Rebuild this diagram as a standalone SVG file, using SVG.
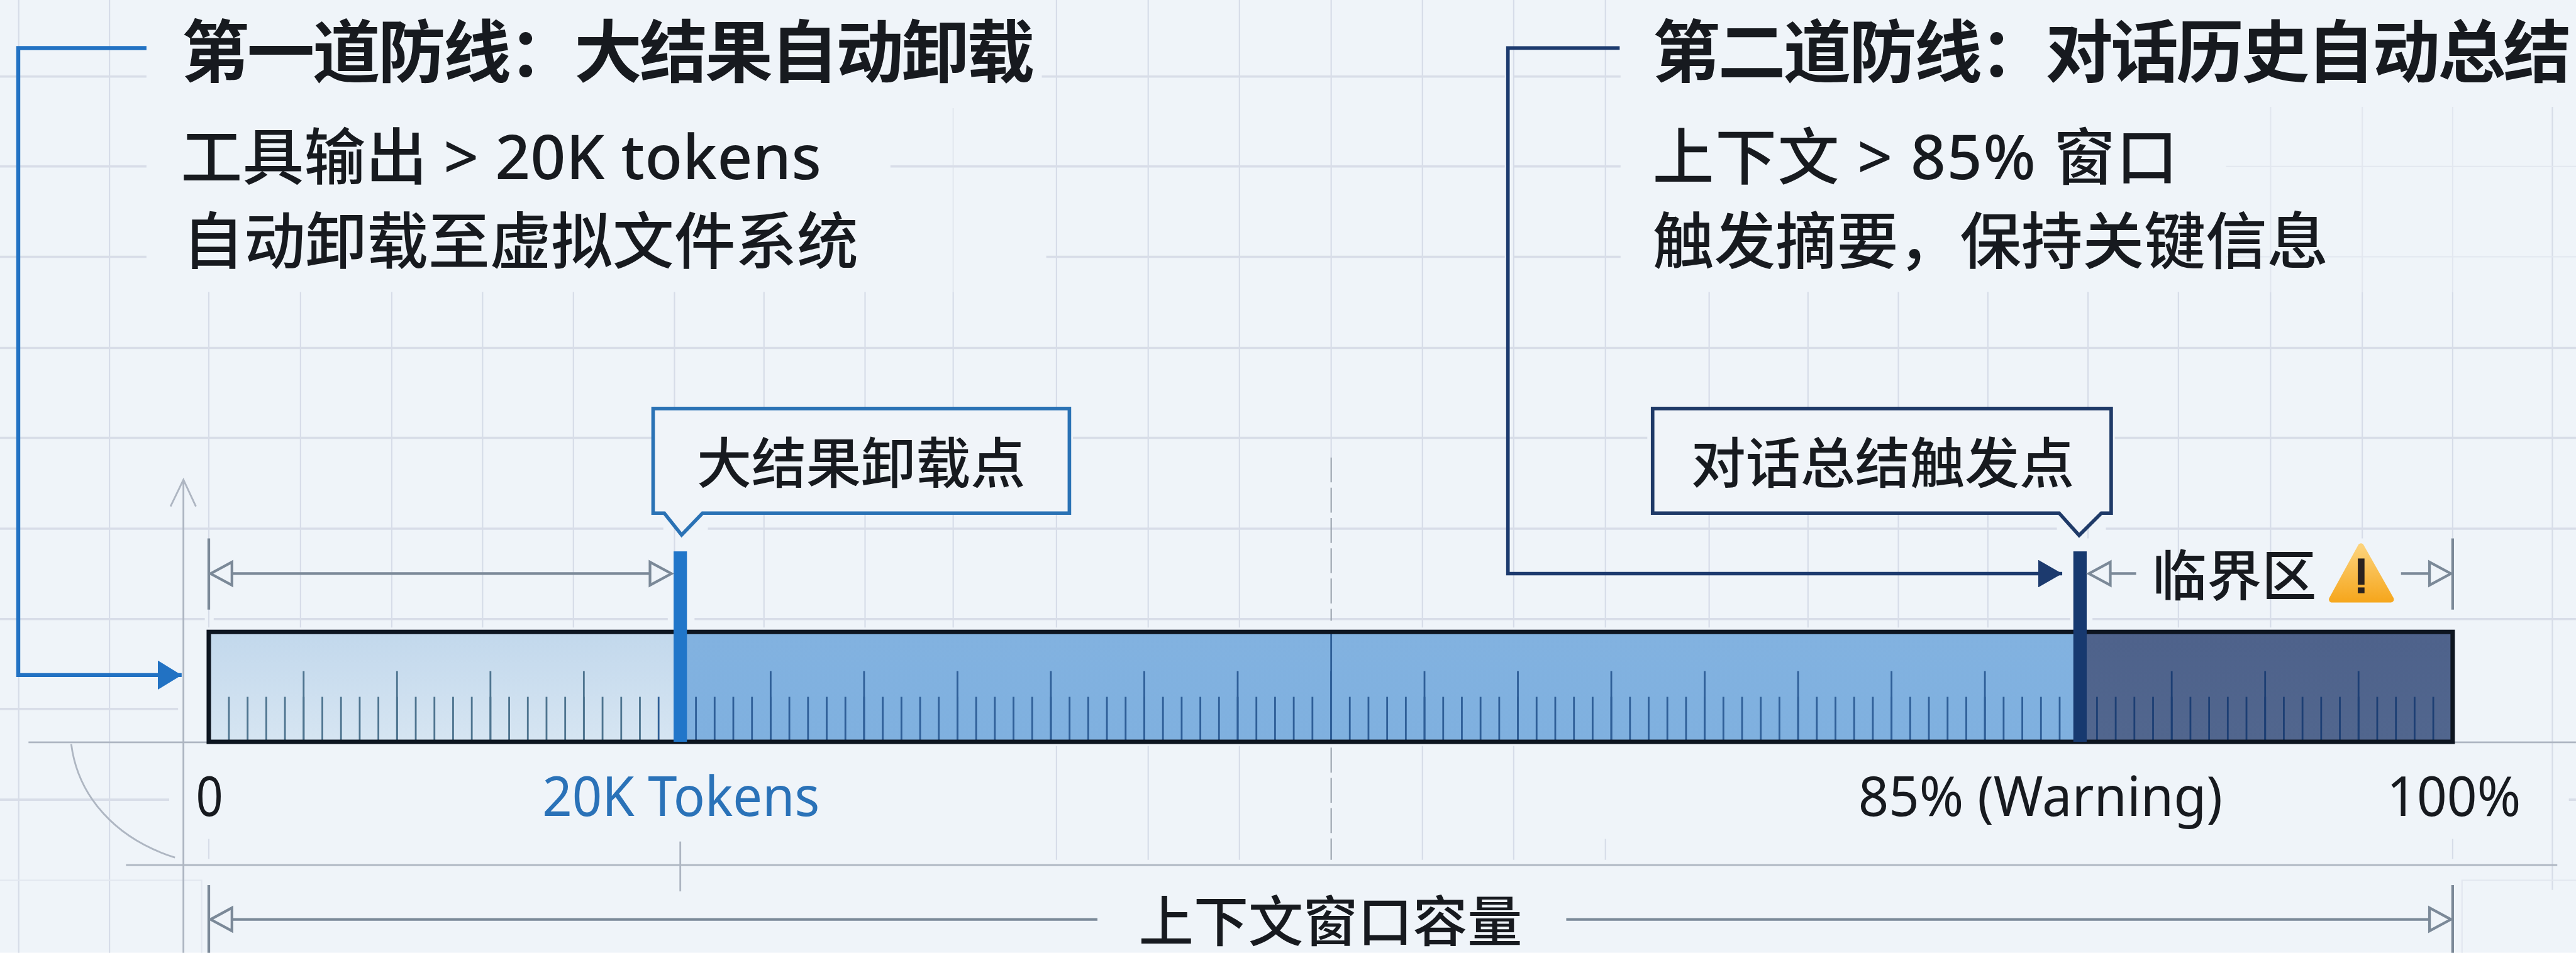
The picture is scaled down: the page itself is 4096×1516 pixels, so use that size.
<svg xmlns="http://www.w3.org/2000/svg" width="4096" height="1516" viewBox="0 0 4096 1516">
<style>
text{font-family:"Noto Sans","Noto Sans CJK SC",sans-serif;fill:#171a1f}
.h{font-size:152px;font-weight:700;letter-spacing:-5px}
.b{font-size:138px;font-weight:500}
.c{font-size:123px;font-weight:500}
.n{font-size:125px}
.grid{stroke:#d6dce8;stroke-width:3;fill:none}
.gridh{stroke:#d8dde8;stroke-width:5;fill:none}
.faint{stroke:#e2e7ef;stroke-width:3;fill:none}
.axis{stroke:#aeb6c2;stroke-width:4;fill:none}
.dim{stroke:#7b8998;stroke-width:6;fill:none}
.dash{stroke:#9aa3ae;stroke-width:3;stroke-dasharray:56 12;fill:none}
</style>
<defs>
<linearGradient id="fillA" x1="0" y1="0" x2="0" y2="1"><stop offset="0" stop-color="#c2d8ec"/><stop offset="1" stop-color="#d6e5f2"/></linearGradient>
<linearGradient id="fillB" x1="0" y1="0" x2="0" y2="1"><stop offset="0" stop-color="#82b2e0"/><stop offset="1" stop-color="#7fb0df"/></linearGradient>
<linearGradient id="fillC" x1="0" y1="0" x2="0" y2="1"><stop offset="0" stop-color="#4e628b"/><stop offset="1" stop-color="#51668e"/></linearGradient>
<linearGradient id="warn" x1="0" y1="0" x2="0" y2="1"><stop offset="0" stop-color="#fcd27a"/><stop offset="1" stop-color="#f6a820"/></linearGradient>
<linearGradient id="tickc" gradientUnits="userSpaceOnUse" x1="470" y1="0" x2="5510" y2="0">
<stop offset="0" stop-color="#4f7590"/><stop offset="0.2" stop-color="#4f7590"/><stop offset="0.2" stop-color="#2f5f98"/><stop offset="0.83" stop-color="#2f5f98"/><stop offset="0.83" stop-color="#1d3f74"/><stop offset="1" stop-color="#1d3f74"/>
</linearGradient>
<marker id="hollow" markerUnits="userSpaceOnUse" markerWidth="64" markerHeight="70" refX="54" refY="30" orient="auto-start-reverse" viewBox="0 0 64 60"><path d="M6 4L54 30L6 56Z" fill="#eff4f9" stroke="#7b8998" stroke-width="6"/></marker>
<marker id="solidA" markerUnits="userSpaceOnUse" markerWidth="56" markerHeight="66" refX="54" refY="33" orient="auto" viewBox="0 0 56 66"><path d="M0 0L54 33L0 66Z" fill="#2272c3"/></marker>
<marker id="solidB" markerUnits="userSpaceOnUse" markerWidth="56" markerHeight="62" refX="54" refY="31" orient="auto" viewBox="0 0 56 62"><path d="M0 0L54 31L0 62Z" fill="#1c3a6e"/></marker>
</defs>
<g transform="scale(0.70791)">
<rect id="background" width="5786" height="2141" fill="#eff4f9"/>
<g id="grid">
<path class="grid" d="M42 0V2141M246 0V2141M2373 0V1410M2579 0V1410M2784 0V1410M2990 0V1028M3195 0V1410M3400 0V1410M3606 0V1410"/>
<path class="grid" d="M469 656V1410M675 656V1410M880 656V1410M1084 656V1410M1288 656V1410M1515 656V1239M1716 656V1410M1943 656V1410M2141 656V1410M3839 656V1410M4061 656V1410M4264 656V1410M4465 656V1410M4690 656V1210M4893 656V1410M5100 656V1410M5306 656V1210M5509 656V1210M5733 240V2000"/>
<path class="faint" d="M2141 243V656M5100 240V656M5306 240V656M5509 240V656"/>
<path class="grid" d="M2579 1676V1932M2784 1676V1932M3195 1676V1932M3400 1676V1932M3606 1885V1932M2373 1676V1932"/>
<path class="gridh" d="M0 172H329M0 374H329M0 577H329M0 782H5786M2340 172H3380M2000 374H3380M2350 577H3380M3400 172H3640M3400 374H3640M3400 577H3640"/>
<path class="gridh" d="M0 984H1467M2410 984H3700M4750 984H5786M0 1188H1490M1590 1188H4620M4730 1188H5786M0 1391H460M480 1391H1500M1560 1391H4650M4700 1391H5786M0 1593H400M0 1797H380M5770 1797H5786"/>
<path class="faint" d="M5000 374H5786M5000 577H5786M0 1978H453V2141M5530 2141V1978H5786"/>
<path class="axis" d="M64 1668H469M5509 1668H5786M283 1944H5744"/>
<path class="axis" d="M412 2141V1078M383 1138L412 1078L440 1138"/>
<path class="axis" stroke-width="3" d="M160 1672C175 1790 260 1885 393 1927"/>
<path class="axis" d="M1528 1891V2003"/>
<path class="grid" d="M469 1885V1930M5509 1885V1930"/>
<path class="dash" d="M2990 1028V1395M2990 1680V1932"/>
</g>
<g id="heading-1">
<text class="h" x="408" y="172">第一道防线：大结果自动卸载</text>
<text class="b" x="406" y="402" style="letter-spacing:.5px">工具输出 &gt; 20K tokens</text>
<text class="b" x="410" y="592">自动卸载至虚拟文件系统</text>
</g>
<g id="heading-2">
<text class="h" x="3712" y="172">第二道防线：对话历史自动总结</text>
<text class="b" x="3712" y="402" style="letter-spacing:2.5px">上下文 &gt; 85% 窗口</text>
<text class="b" x="3712" y="592">触发摘要，保持关键信息</text>
</g>
<g id="capacity-bar">
<rect x="469" y="1420" width="1050" height="247" fill="url(#fillA)"/>
<rect x="1519" y="1420" width="3150" height="247" fill="url(#fillB)"/>
<rect x="4669" y="1420" width="840" height="247" fill="url(#fillC)"/>
<line x1="512.2" y1="1615" x2="5470" y2="1615" stroke="url(#tickc)" stroke-width="98" stroke-dasharray="4 37.96"/>
<line x1="680" y1="1586" x2="5304" y2="1586" stroke="url(#tickc)" stroke-width="156" stroke-dasharray="4 205.8"/>
<line x1="2990" y1="1424" x2="2990" y2="1664" stroke="#2f5f98" stroke-width="4"/>
<rect x="469" y="1420" width="5040" height="247" fill="none" stroke="#0d1520" stroke-width="10"/>
</g>
<g id="marker-20k"><rect x="1513" y="1239" width="30" height="428" fill="#2176c9"/></g>
<g id="marker-85"><rect x="4657" y="1239" width="30" height="428" fill="#17396f"/></g>
<g id="connectors">
<path d="M329 108H41V1517H408" fill="none" stroke="#2272c3" stroke-width="9" marker-end="url(#solidA)"/>
<path d="M3638 108H3387V1289H4632" fill="none" stroke="#1c3a6e" stroke-width="8" marker-end="url(#solidB)"/>
<path class="dim" d="M469 1210V1370M5509 1210V1370M469 1989V2141M5509 1989V2141" stroke-width="5"/>
<line class="dim" x1="473" y1="1289" x2="1508" y2="1289" marker-start="url(#hollow)" marker-end="url(#hollow)"/>
<line class="dim" x1="4692" y1="1289" x2="4798" y2="1289" marker-start="url(#hollow)"/>
<line class="dim" x1="5393" y1="1289" x2="5505" y2="1289" marker-end="url(#hollow)"/>
<line class="dim" x1="473" y1="2066" x2="2465" y2="2066" marker-start="url(#hollow)"/>
<line class="dim" x1="3518" y1="2066" x2="5505" y2="2066" marker-end="url(#hollow)"/>
</g>
<g id="callout-1">
<path d="M1467 918H2402V1153H1578L1531 1202L1492 1153H1467Z" fill="#f0f4f9" stroke="#2a72b5" stroke-width="8"/>
<text class="c" x="1565" y="1087">大结果卸载点</text>
</g>
<g id="callout-2">
<path d="M3712 918H4742V1153H4720L4670 1203L4625 1153H3712Z" fill="#f0f4f9" stroke="#1f3a68" stroke-width="8"/>
<text class="c" x="3798" y="1087">对话总结触发点</text>
</g>
<g id="critical-zone">
<text class="c" x="4834" y="1339">临界区</text>
<path d="M5303 1228L5238 1347H5370Z" fill="url(#warn)" stroke="url(#warn)" stroke-width="14" stroke-linejoin="round"/>
<rect x="5296" y="1255" width="15" height="59" fill="#2b2320"/>
<rect x="5296" y="1320" width="15" height="13" fill="#2b2320"/>
</g>
<g id="axis-labels">
<text class="n" x="440" y="1833" textLength="61" lengthAdjust="spacingAndGlyphs">0</text>
<text class="n" x="1218" y="1833" textLength="623" lengthAdjust="spacingAndGlyphs" style="fill:#2a72b8">20K Tokens</text>
<text class="n" x="4174" y="1833" textLength="818" lengthAdjust="spacingAndGlyphs">85% (Warning)</text>
<text class="n" x="5361" y="1833" textLength="301" lengthAdjust="spacingAndGlyphs">100%</text>
</g>
<g id="capacity-label"><text class="c" x="2558" y="2116">上下文窗口容量</text></g>
</g>
</svg>
